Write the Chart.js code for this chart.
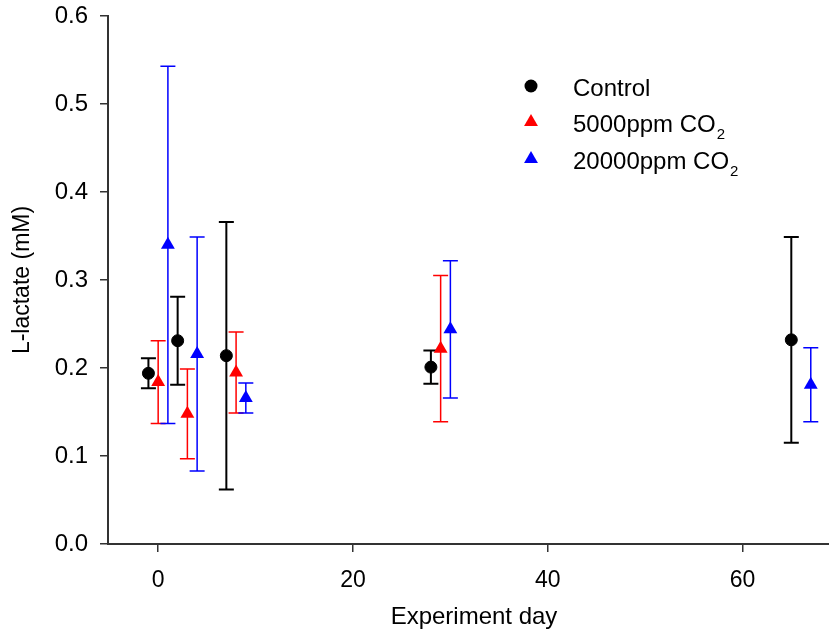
<!DOCTYPE html>
<html>
<head>
<meta charset="utf-8">
<script src="https://cdn.jsdelivr.net/npm/chart.js@4/dist/chart.umd.min.js"></script>
<style>
  html, body { margin: 0; padding: 0; background: #fff; overflow: hidden; }
  /* the original figure is cut at the right edge, so the canvas runs a bit past it */
  #wrap { width: 829px; height: 642px; position: relative; overflow: hidden; }
</style>
</head>
<body>
<div id="wrap"><canvas id="myChart" width="848" height="642"></canvas></div>
<script>
// values (mean +/- error bar half length)
const controlDays = [-1, 2, 7, 28, 65];
const controlMean = [0.194, 0.231, 0.214, 0.201, 0.232];
const controlErr  = [0.017, 0.050, 0.152, 0.019, 0.117];

const co2LowDays = [0, 3, 8, 29];
const co2LowMean = [0.184, 0.148, 0.195, 0.222];
const co2LowErr  = [0.047, 0.051, 0.046, 0.083];

const co2HighDays = [1, 4, 9, 30, 67];
const co2HighMean = [0.340, 0.216, 0.166, 0.244, 0.181];
const co2HighErr  = [0.203, 0.133, 0.017, 0.078, 0.042];

const xTicks = [0, 20, 40, 60];
const yTicks = [0, 0.1, 0.2, 0.3, 0.4, 0.5, 0.6];

const FONT = 'Liberation Sans, Arial, sans-serif';
const AXIS = '#333333';

const toPoints = (days, mean, err) => {
  let pts = [];
  for (let i = 0; i < days.length; i++) {
    pts.push({ x: days[i], y: mean[i], err: err[i] });
  }
  return pts;
};

// draws the vertical error bars with caps, under the markers
const errorBars = {
  id: 'errorBars',
  beforeDatasetsDraw(chart) {
    const ctx = chart.ctx;
    const xs = chart.scales.x, ys = chart.scales.y;
    chart.data.datasets.forEach((ds) => {
      ctx.save();
      ctx.strokeStyle = ds.borderColor;
      ctx.lineWidth = ds.errWidth;
      ds.data.forEach((p) => {
        const px = xs.getPixelForValue(p.x);
        const top = ys.getPixelForValue(p.y + p.err);
        const bot = ys.getPixelForValue(p.y - p.err);
        ctx.beginPath();
        ctx.moveTo(px, top); ctx.lineTo(px, bot);
        ctx.moveTo(px - 7.5, top); ctx.lineTo(px + 7.5, top);
        ctx.moveTo(px - 7.5, bot); ctx.lineTo(px + 7.5, bot);
        ctx.stroke();
      });
      ctx.restore();
    });
  }
};

// legend inside the plot, with subscript in CO2
const insideLegend = {
  id: 'insideLegend',
  afterDraw(chart) {
    const ctx = chart.ctx;
    const items = [
      { style: 'circle', color: '#000', r: 6.5, y: 86, text: 'Control', sub: '' },
      { style: 'triangle', color: '#ff0000', r: 8, y: 122, text: '5000ppm CO', sub: '2' },
      { style: 'triangle', color: '#0000ff', r: 8, y: 159, text: '20000ppm CO', sub: '2' }
    ];
    ctx.save();
    items.forEach((it) => {
      ctx.fillStyle = it.color;
      ctx.beginPath();
      if (it.style === 'circle') {
        ctx.arc(531, it.y, it.r, 0, Math.PI * 2);
      } else {
        ctx.moveTo(531, it.y - it.r);
        ctx.lineTo(531 + it.r * 0.866, it.y + it.r / 2);
        ctx.lineTo(531 - it.r * 0.866, it.y + it.r / 2);
        ctx.closePath();
      }
      ctx.fill();
      ctx.fillStyle = '#000';
      ctx.textBaseline = 'alphabetic';
      ctx.textAlign = 'left';
      ctx.font = '24px ' + FONT;
      const base = it.y + 10;
      ctx.fillText(it.text, 573, base);
      if (it.sub) {
        const w = ctx.measureText(it.text).width;
        ctx.font = '15px ' + FONT;
        ctx.fillText(it.sub, 573 + w + 1, base + 7);
      }
    });
    ctx.restore();
  }
};

const ctx = document.getElementById('myChart').getContext('2d');
const myChart = new Chart(ctx, {
  type: 'scatter',
  data: {
    datasets: [
      {
        label: 'Control',
        data: toPoints(controlDays, controlMean, controlErr),
        pointStyle: 'circle',
        pointRadius: 6,
        borderWidth: 1,
        backgroundColor: '#000',
        borderColor: '#000',
        errWidth: 2
      },
      {
        label: '5000ppm CO2',
        data: toPoints(co2LowDays, co2LowMean, co2LowErr),
        pointStyle: 'triangle',
        pointRadius: 8,
        borderWidth: 0,
        backgroundColor: '#ff0000',
        borderColor: '#ff0000',
        errWidth: 1.5
      },
      {
        label: '20000ppm CO2',
        data: toPoints(co2HighDays, co2HighMean, co2HighErr),
        pointStyle: 'triangle',
        pointRadius: 8,
        borderWidth: 0,
        backgroundColor: '#0000ff',
        borderColor: '#0000ff',
        errWidth: 1.5
      }
    ]
  },
  options: {
    responsive: false,
    animation: false,
    layout: { padding: { top: 16, right: 1, left: 0, bottom: 0 } },
    plugins: {
      legend: { display: false },
      tooltip: { enabled: false }
    },
    scales: {
      x: {
        type: 'linear',
        min: -5.15,
        max: 70,
        afterBuildTicks: (s) => { s.ticks = xTicks.map(v => ({ value: v })); },
        afterFit: (s) => { s.height = 98; s.paddingLeft = 0; s.paddingRight = 0; },
        border: { color: AXIS, width: 2 },
        grid: { drawOnChartArea: false, drawTicks: true, tickLength: 8, color: AXIS, lineWidth: 1.5 },
        ticks: { color: '#000', font: { family: FONT, size: 23 }, padding: 15, maxRotation: 0 },
        title: { display: true, text: 'Experiment day', color: '#000', font: { family: FONT, size: 24 }, padding: { top: 0, bottom: 10 } }
      },
      y: {
        type: 'linear',
        min: 0,
        max: 0.6,
        afterBuildTicks: (s) => { s.ticks = yTicks.map(v => ({ value: v })); },
        afterFit: (s) => { s.width = 108; s.paddingTop = 0; s.paddingBottom = 0; },
        border: { color: AXIS, width: 2 },
        grid: { drawOnChartArea: false, drawTicks: true, tickLength: 8, color: AXIS, lineWidth: 1.5 },
        ticks: { color: '#000', font: { family: FONT, size: 24 }, padding: 12, callback: (v) => v.toFixed(1) },
        title: { display: true, text: 'L-lactate (mM)', color: '#000', font: { family: FONT, size: 23 }, padding: { top: 9, bottom: 0 } }
      }
    }
  },
  plugins: [errorBars, insideLegend]
});
</script>
</body>
</html>
